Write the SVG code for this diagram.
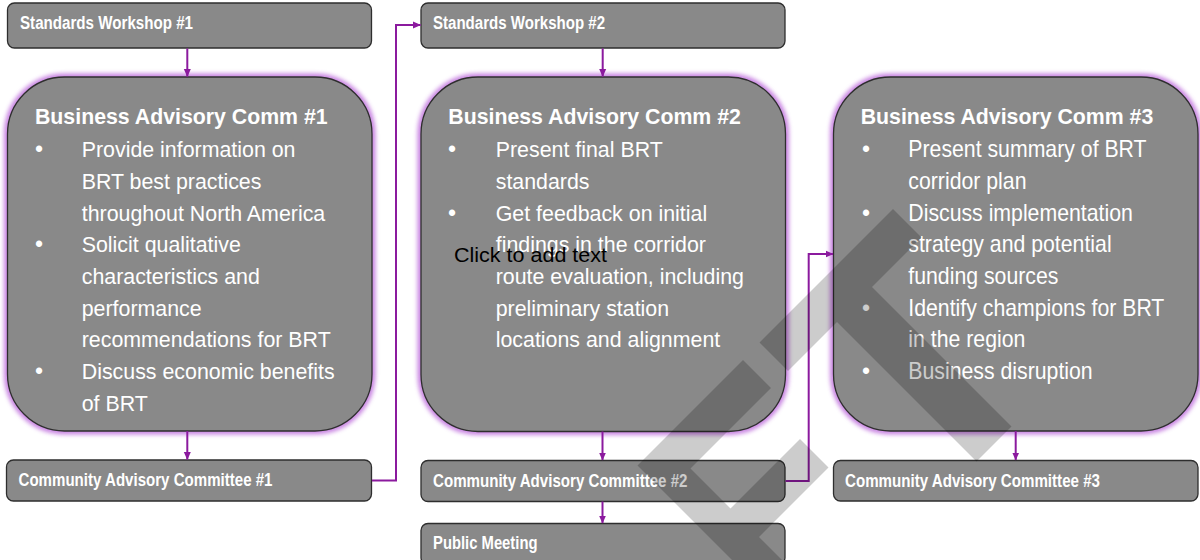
<svg xmlns="http://www.w3.org/2000/svg" width="1200" height="560" viewBox="0 0 1200 560">
<style>
.box{fill:#898989;stroke:#2e2e2e;stroke-width:1.3}
.glow{fill:none;stroke:#b65ad8;stroke-width:7;opacity:0.75}
.lbl{font-family:"Liberation Sans",Arial,sans-serif;font-weight:bold;font-size:18px;fill:#ffffff}
.ttl{font-family:"Liberation Sans",Arial,sans-serif;font-weight:bold;font-size:22px;fill:#ffffff}
.txt{font-family:"Liberation Sans",Arial,sans-serif;font-size:23px;fill:#ffffff}
.con{fill:none;stroke:#8b1a9e;stroke-width:2}
.wm{fill:#000000;opacity:0.2}
</style>
<defs>
<filter id="blur" x="-10%" y="-10%" width="120%" height="120%"><feGaussianBlur stdDeviation="2.2"/></filter>
<marker id="ah" markerWidth="8" markerHeight="8" refX="7.5" refY="4" orient="auto" markerUnits="userSpaceOnUse"><path d="M0,0.5 L8,4 L0,7.5z" fill="#8b1a9e"/></marker>
</defs>
<rect width="1200" height="560" fill="#ffffff"/>

<g id="sw1"><rect class="box" x="7.5" y="3" width="364" height="45" rx="7"/><text class="lbl" x="20" y="28.5" textLength="173" lengthAdjust="spacingAndGlyphs">Standards Workshop #1</text></g>
<g id="sw2"><rect class="box" x="421" y="3" width="364" height="45" rx="7"/><text class="lbl" x="433" y="28.5" textLength="172" lengthAdjust="spacingAndGlyphs">Standards Workshop #2</text></g>

<g id="bac1">
<rect class="glow" x="7.5" y="77" width="364.5" height="354" rx="57" filter="url(#blur)"/>
<rect class="box" x="7.5" y="77" width="364.5" height="354" rx="57"/>
<g transform="translate(35 0) scale(0.968 1)"><text class="ttl" x="0" y="124">Business Advisory Comm #1</text></g>
<text class="txt" x="35" y="157.3">•</text><text class="txt" x="35" y="252.4">•</text><text class="txt" x="35" y="379.2">•</text>
<g transform="translate(81.7 0) scale(0.93 1)" class="txt">
<text x="0" y="157.3">Provide information on</text>
<text x="0" y="189">BRT best practices</text>
<text x="0" y="220.7">throughout North America</text>
<text x="0" y="252.4">Solicit qualitative</text>
<text x="0" y="284.1">characteristics and</text>
<text x="0" y="315.8">performance</text>
<text x="0" y="347.5">recommendations for BRT</text>
<text x="0" y="379.2">Discuss economic benefits</text>
<text x="0" y="410.9">of BRT</text>
</g>
</g>

<g id="bac2">
<rect class="glow" x="421" y="77" width="364.5" height="354.5" rx="57" filter="url(#blur)"/>
<rect class="box" x="421" y="77" width="364.5" height="354.5" rx="57"/>
<g transform="translate(448.3 0) scale(0.968 1)"><text class="ttl" x="0" y="124">Business Advisory Comm #2</text></g>
<text class="txt" x="448" y="157.3">•</text><text class="txt" x="448" y="220.7">•</text>
<g transform="translate(495.7 0) scale(0.93 1)" class="txt">
<text x="0" y="157.3">Present final BRT</text>
<text x="0" y="189">standards</text>
<text x="0" y="220.7">Get feedback on initial</text>
<text x="0" y="252.4">findings in the corridor</text>
<text x="0" y="284.1">route evaluation, including</text>
<text x="0" y="315.8">preliminary station</text>
<text x="0" y="347.5">locations and alignment</text>
</g>
<text x="454" y="261.5" font-family="'Liberation Sans',Arial,sans-serif" font-size="20" fill="#000000" textLength="153" lengthAdjust="spacingAndGlyphs">Click to add text</text>
</g>

<g id="bac3">
<rect class="glow" x="833.5" y="77" width="364.5" height="354" rx="57" filter="url(#blur)"/>
<rect class="box" x="833.5" y="77" width="364.5" height="354" rx="57"/>
<g transform="translate(860.7 0) scale(0.968 1)"><text class="ttl" x="0" y="124">Business Advisory Comm #3</text></g>
<text class="txt" x="862" y="157.3">•</text><text class="txt" x="862" y="220.7">•</text><text class="txt" x="862" y="315.8">•</text><text class="txt" x="862" y="379.2">•</text>
<g transform="translate(908.3 0) scale(0.925 1)" class="txt">
<text x="0" y="157.3">Present summary of BRT</text>
<text x="0" y="189">corridor plan</text>
<text x="0" y="220.7">Discuss implementation</text>
<text x="0" y="252.4">strategy and potential</text>
<text x="0" y="284.1">funding sources</text>
<text x="0" y="315.8">Identify champions for BRT</text>
<text x="0" y="347.5">in the region</text>
<text x="0" y="379.2">Business disruption</text>
</g>
</g>

<g id="cac1"><rect class="box" x="6.5" y="460" width="365" height="41" rx="7"/><text class="lbl" x="18.5" y="486" textLength="254" lengthAdjust="spacingAndGlyphs">Community Advisory Committee #1</text></g>
<g id="cac2"><rect class="box" x="421" y="460.5" width="364" height="41" rx="7"/><text class="lbl" x="433" y="486.5" textLength="254.5" lengthAdjust="spacingAndGlyphs">Community Advisory Committee #2</text></g>
<g id="cac3"><rect class="box" x="833.5" y="460.5" width="364.5" height="40.5" rx="7"/><text class="lbl" x="845" y="486.5" textLength="255" lengthAdjust="spacingAndGlyphs">Community Advisory Committee #3</text></g>
<g id="pm"><rect class="box" x="421" y="523.5" width="364" height="41" rx="7"/><text class="lbl" x="433" y="549" textLength="104.5" lengthAdjust="spacingAndGlyphs">Public Meeting</text></g>

<g id="connectors">
<path class="con" d="M187.3,48.5 V76.5" marker-end="url(#ah)"/>
<path class="con" d="M187.3,431 V459.5" marker-end="url(#ah)"/>
<path class="con" d="M372,480.5 H396 V25 H420.5" marker-end="url(#ah)"/>
<path class="con" d="M602.7,48.5 V76.5" marker-end="url(#ah)"/>
<path class="con" d="M602.5,431.5 V460" marker-end="url(#ah)"/>
<path class="con" d="M602.5,501.5 V523" marker-end="url(#ah)"/>
<path class="con" d="M785.5,481 H808.7 V254 H833" marker-end="url(#ah)"/>
<path class="con" d="M1015.7,431 V460" marker-end="url(#ah)"/>
</g>

<g id="watermark">
<polygon class="wm" points="759.5,342.5 893,209 921.5,237.5 872,287 1011.5,426.5 976.5,461.5 837,322 788,371"/>
<polygon class="wm" points="743,360 637.5,465.5 836,664 861,639 759,537 828.5,467.5 800,439 730.5,508.5 690.5,468.5 771,388"/>
</g>
</svg>
